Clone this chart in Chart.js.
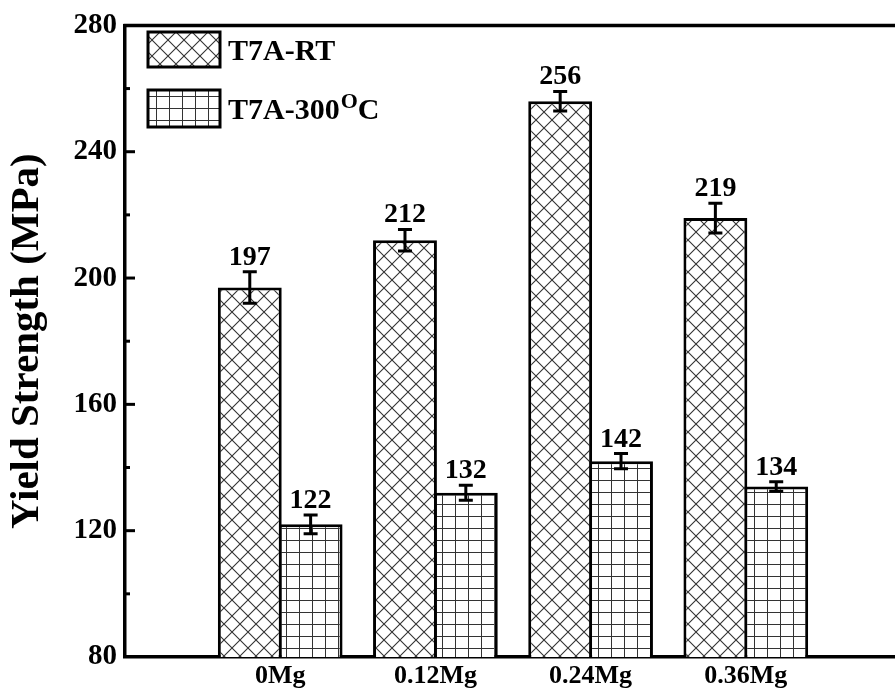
<!DOCTYPE html>
<html>
<head>
<meta charset="utf-8">
<script src="https://cdn.jsdelivr.net/npm/chart.js@4.4.1/dist/chart.umd.min.js"></script>
<style>
  html, body { margin: 0; padding: 0; background: #fff; overflow: hidden; }
  #wrap { position: absolute; left: 0; top: 0; width: 905px; height: 691px; }
</style>
</head>
<body>
<div id="wrap"><canvas id="chart"></canvas></div>
<script>
const categories = ["0Mg", "0.12Mg", "0.24Mg", "0.36Mg"];
const seriesLabels = ["T7A-RT", "T7A-300ᴼC"];
const rtValues = [197, 212, 256, 219];
const rtErrors = [5, 3.4, 3.1, 4.7];
const hotValues = [122, 132, 142, 134];
const hotErrors = [3, 2.4, 2.4, 1.5];
const yMin = 80, yMax = 280, yStep = 20, yLabelStep = 40;

const FONT = "'Liberation Serif', 'Times New Roman', serif";
const ctx = document.getElementById("chart").getContext("2d");

function crossPattern() {
    const c = document.createElement("canvas");
    c.width = 16; c.height = 16;
    const g = c.getContext("2d");
    g.fillStyle = "#fff";
    g.fillRect(0, 0, 16, 16);
    g.strokeStyle = "#333";
    g.lineWidth = 1.1;
    g.beginPath();
    g.moveTo(-2, -2); g.lineTo(18, 18);
    g.moveTo(18, -2); g.lineTo(-2, 18);
    g.stroke();
    return ctx.createPattern(c, "repeat");
}

function gridPattern() {
    const c = document.createElement("canvas");
    c.width = 13; c.height = 12;
    const g = c.getContext("2d");
    g.fillStyle = "#fff";
    g.fillRect(0, 0, 13, 12);
    g.strokeStyle = "#333";
    g.lineWidth = 1;
    g.beginPath();
    g.moveTo(0.5, 0); g.lineTo(0.5, 12);
    g.moveTo(0, 0.5); g.lineTo(13, 0.5);
    g.stroke();
    return ctx.createPattern(c, "repeat");
}

const fills = [crossPattern(), gridPattern()];
const errors = [rtErrors, hotErrors];

function toPoints(values) {
    return values.map((v, i) => ({ x: i + 1, y: v }));
}

// error bars, value labels, inward ticks, top frame line, legend
const extras = {
    id: "extras",
    afterDatasetsDraw(chart) {
        const c = chart.ctx;
        const y = chart.scales.y;
        const area = chart.chartArea;
        c.save();

        chart.data.datasets.forEach((ds, di) => {
            const meta = chart.getDatasetMeta(di);
            meta.data.forEach((bar, i) => {
                const v = ds.data[i].y;
                const e = errors[di][i];
                const top = y.getPixelForValue(v + e);
                const bot = y.getPixelForValue(v - e);
                c.strokeStyle = "#000";
                c.lineWidth = 3;
                c.beginPath();
                c.moveTo(bar.x, top); c.lineTo(bar.x, bot);
                c.moveTo(bar.x - 7, top); c.lineTo(bar.x + 7, top);
                c.moveTo(bar.x - 7, bot); c.lineTo(bar.x + 7, bot);
                c.stroke();

                c.fillStyle = "#000";
                c.font = "bold 28px " + FONT;
                c.textAlign = "center";
                c.textBaseline = "alphabetic";
                c.fillText(String(v), bar.x, top - 7);
            });
        });

        // inward ticks on y axis
        c.strokeStyle = "#000";
        c.lineWidth = 3;
        y.ticks.forEach(t => {
            const py = y.getPixelForValue(t.value);
            if (t.value === yMin || t.value === yMax) return;
            const len = t.value % yLabelStep === 0 ? 10 : 5;
            c.beginPath();
            c.moveTo(area.left, py);
            c.lineTo(area.left + len, py);
            c.stroke();
        });

        // top frame line
        c.lineWidth = 3.5;
        c.beginPath();
        c.moveTo(area.left - 1.5, area.top);
        c.lineTo(area.right, area.top);
        c.stroke();

        // legend
        const boxX = 148, boxW = 72;
        const boxes = [[32, 35], [90, 37]];
        chart.data.datasets.forEach((ds, di) => {
            const [by, bh] = boxes[di];
            c.fillStyle = ds.backgroundColor;
            c.fillRect(boxX, by, boxW, bh);
            c.lineWidth = 3;
            c.strokeStyle = "#000";
            c.strokeRect(boxX, by, boxW, bh);

            c.fillStyle = "#000";
            c.textAlign = "left";
            c.textBaseline = "alphabetic";
            const base = by + bh / 2 + 10;
            let tx = 228;
            const parts = ds.label.split("ᴼ");
            c.font = "bold 30px " + FONT;
            c.fillText(parts[0], tx, base);
            tx += c.measureText(parts[0]).width;
            if (parts.length > 1) {
                c.font = "bold 22px " + FONT;
                c.fillText("O", tx + 1, base - 11);
                tx += c.measureText("O").width + 1;
                c.font = "bold 30px " + FONT;
                c.fillText(parts[1], tx, base);
            }
        });

        c.restore();
    }
};

new Chart(ctx, {
    type: "bar",
    data: {
        datasets: [
            {
                label: seriesLabels[0],
                data: toPoints(rtValues),
                backgroundColor: fills[0],
                borderColor: "#000",
                borderWidth: 3
            },
            {
                label: seriesLabels[1],
                data: toPoints(hotValues),
                backgroundColor: fills[1],
                borderColor: "#000",
                borderWidth: 3
            }
        ]
    },
    options: {
        responsive: true,
        maintainAspectRatio: false,
        animation: false,
        devicePixelRatio: 1,
        layout: { padding: { top: 20, right: 3, left: 0, bottom: 0 } },
        datasets: {
            bar: { categoryPercentage: 0.784, barPercentage: 1.05 }
        },
        plugins: {
            legend: { display: false },
            tooltip: { enabled: false }
        },
        scales: {
            x: {
                type: "linear",
                min: 0,
                max: 5,
                offset: false,
                grid: { display: false, drawTicks: false, offset: false },
                border: { display: true, color: "#000", width: 3.5 },
                ticks: {
                    stepSize: 1,
                    autoSkip: false,
                    maxRotation: 0,
                    padding: 4,
                    color: "#000",
                    font: { family: FONT, size: 26, weight: "bold" },
                    callback: v => categories[v - 1] || ""
                },
                afterFit: s => { s.height = 34; }
            },
            y: {
                min: yMin,
                max: yMax,
                grid: { display: false, drawTicks: false },
                border: { display: true, color: "#000", width: 3.5 },
                ticks: {
                    stepSize: yStep,
                    autoSkip: false,
                    padding: 8,
                    color: "#000",
                    font: { family: FONT, size: 29, weight: "bold" },
                    callback: v => (v % yLabelStep === 0 ? v : "")
                },
                title: {
                    display: true,
                    text: "Yield Strength (MPa)",
                    color: "#000",
                    padding: { top: 3, bottom: 0 },
                    font: { family: FONT, size: 41, weight: "bold" }
                },
                afterFit: s => { s.width = 125; }
            }
        }
    },
    plugins: [extras]
});
</script>
</body>
</html>
